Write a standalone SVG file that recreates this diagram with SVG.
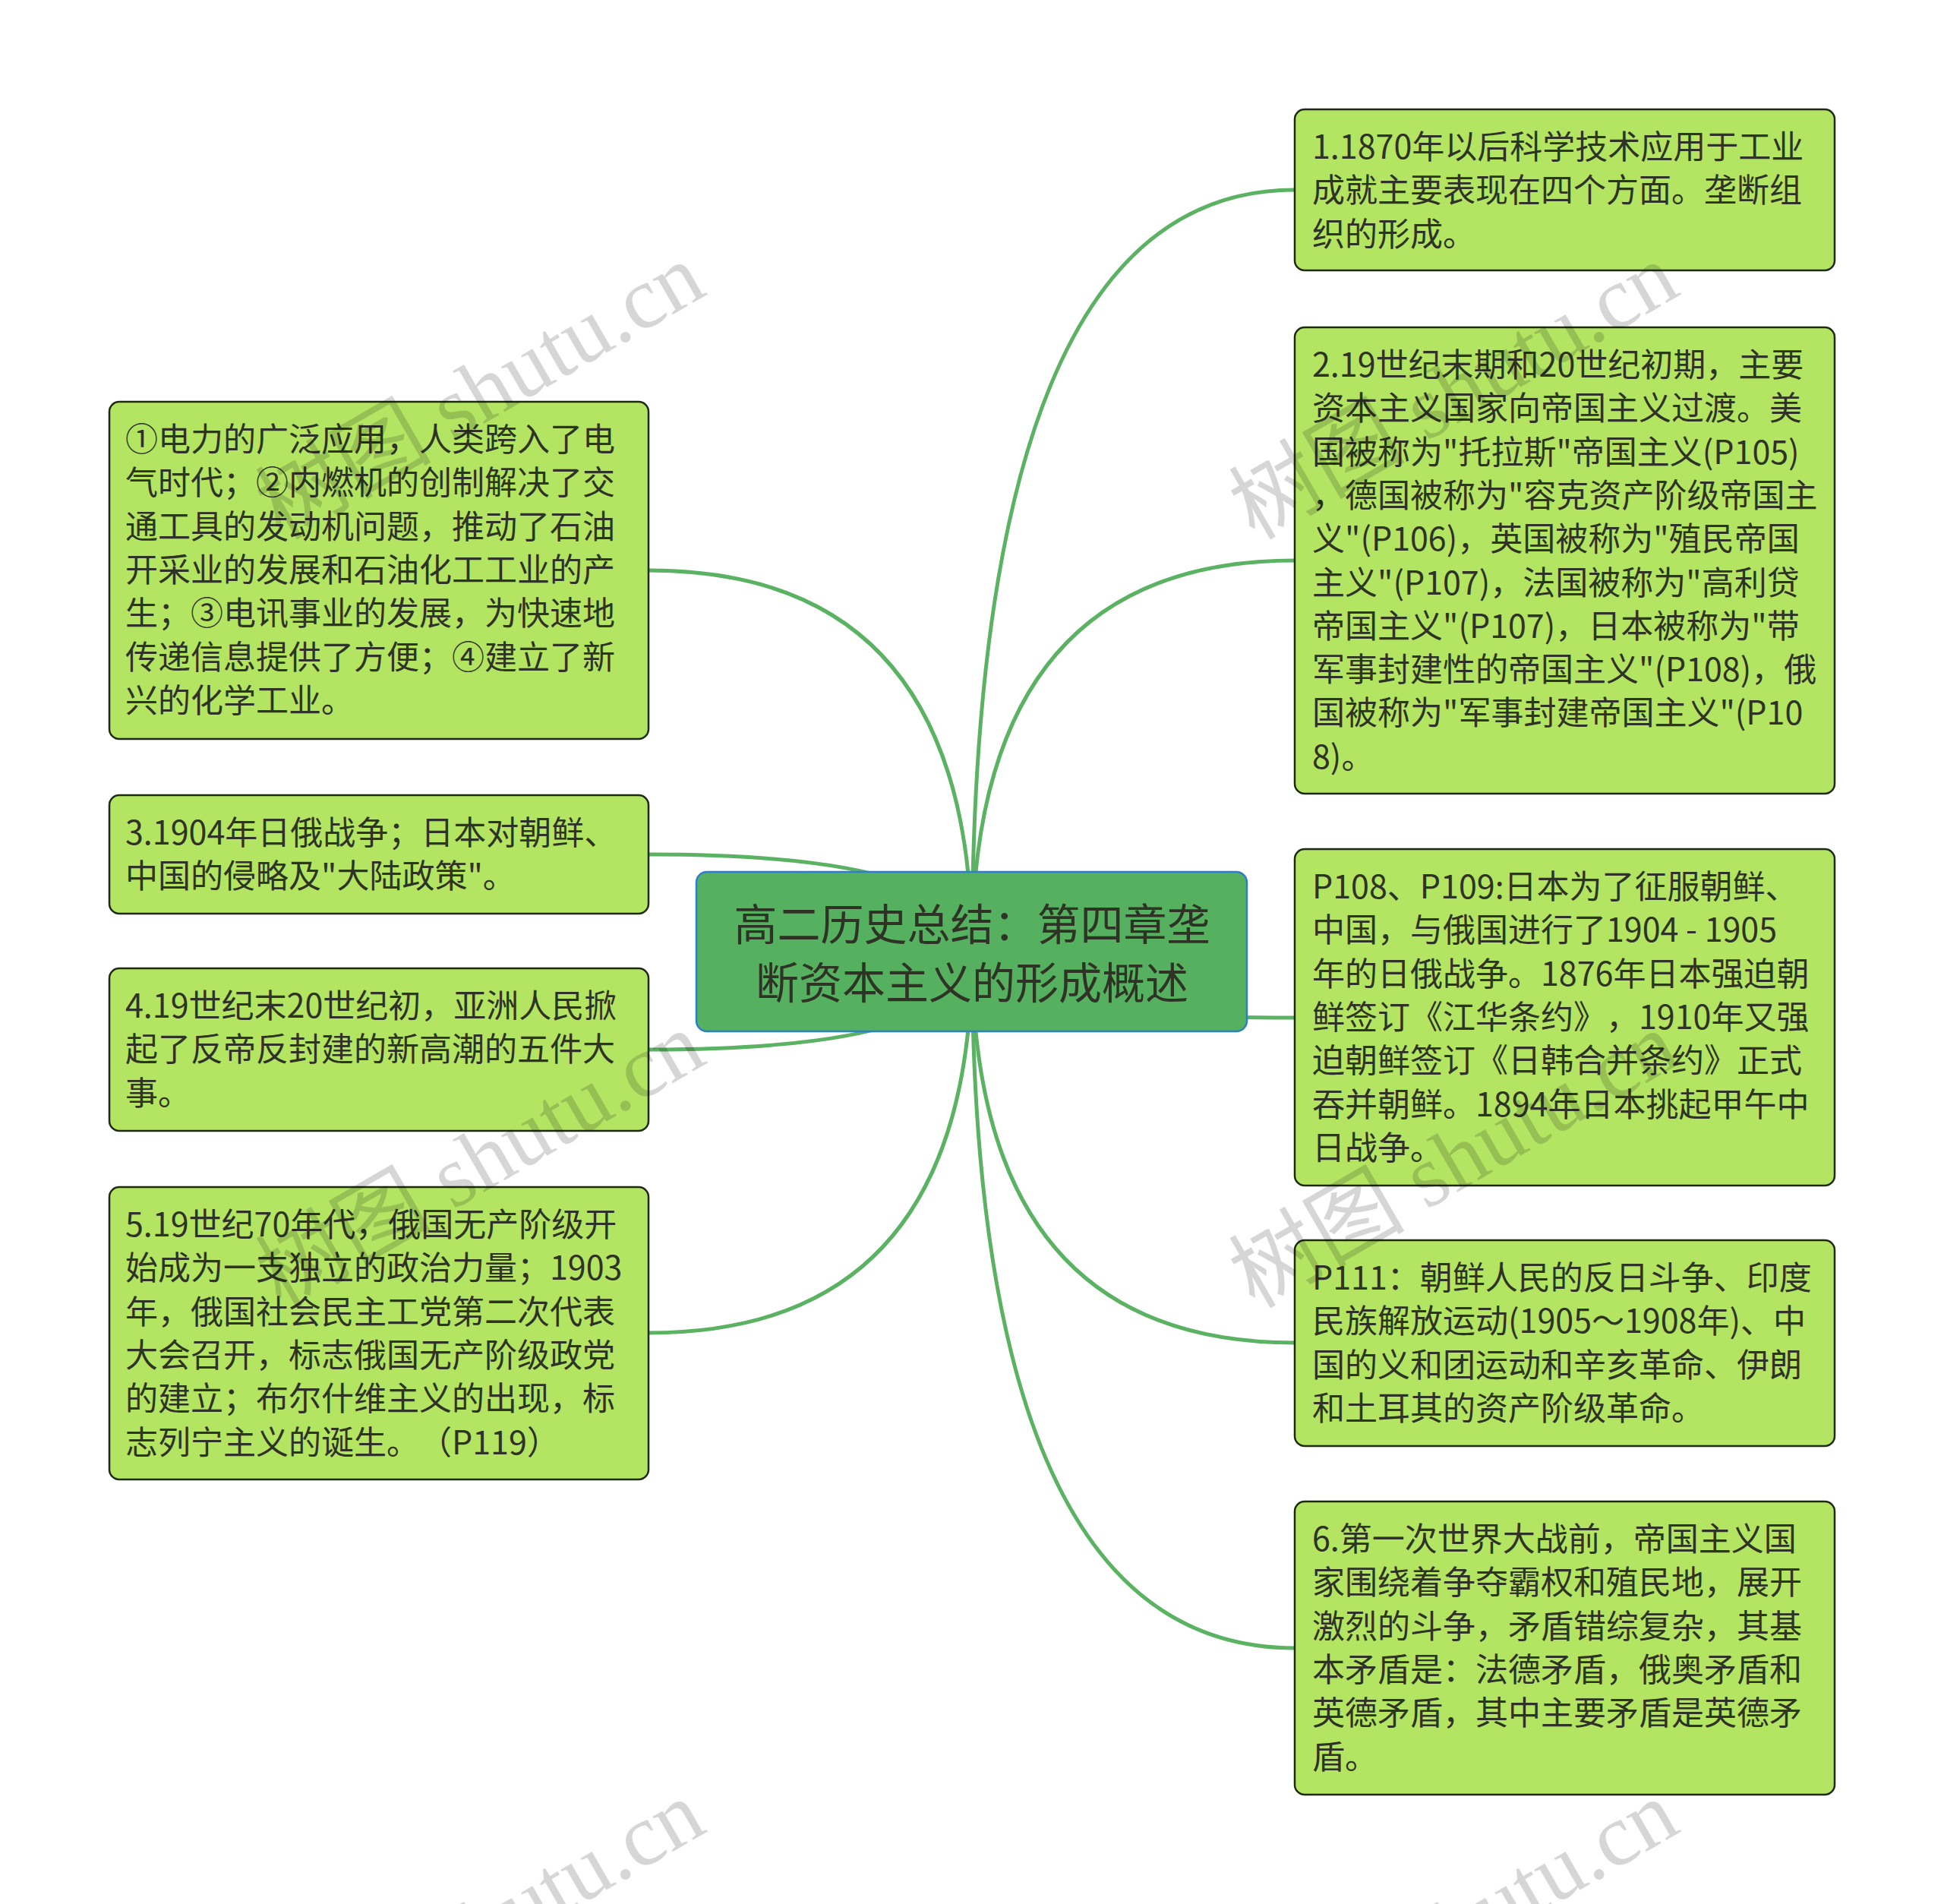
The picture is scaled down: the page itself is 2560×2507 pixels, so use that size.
<svg xmlns="http://www.w3.org/2000/svg" width="2560" height="2507" viewBox="0 0 2560 2507">
<style>
.bg{fill:#ffffff}
.edge{fill:none;stroke:#5ab262;stroke-width:5;stroke-linecap:round}
.box{fill:#b3e563;stroke:#1f2a12;stroke-width:2.5}
.root{fill:#55b05f;stroke:#2f7dd0;stroke-width:2.5}
.t{font-family:"Noto Sans CJK SC","Noto Sans",sans-serif;font-size:43px;fill:#2e3325;text-spacing-trim:space-all}
.rt{font-family:"Noto Sans CJK SC","Noto Sans",sans-serif;font-size:57px;fill:#2e3325;text-anchor:middle}
.wm{font-family:"Liberation Serif","Noto Sans CJK SC",serif;font-size:116px;fill:#000;fill-opacity:0.16}
</style>
<rect class="bg" x="0" y="0" width="2560" height="2507"/>
<g id="connectors">
<path class="edge" d="M1280,1253 Q1280,250 1705,250"/>
<path class="edge" d="M1280,1253 Q1280,738 1705,738"/>
<path class="edge" d="M1280,1253 Q1280,1340 1705,1340"/>
<path class="edge" d="M1280,1253 Q1280,1768 1705,1768"/>
<path class="edge" d="M1280,1253 Q1280,2170 1705,2170"/>
<path class="edge" d="M1280,1253 Q1280,751 854,751"/>
<path class="edge" d="M1280,1253 Q1280,1125 854,1125"/>
<path class="edge" d="M1280,1253 Q1280,1382 854,1382"/>
<path class="edge" d="M1280,1253 Q1280,1755 854,1755"/>
</g>
<g id="root">
<rect class="root" x="917" y="1148" width="725" height="210" rx="14"/>
<text class="rt"><tspan x="1280" y="1238">高二历史总结：第四章垄</tspan><tspan x="1280" y="1315">断资本主义的形成概述</tspan></text>
</g>
<g id="n1">
<rect class="box" x="1705" y="144" width="711" height="212" rx="13"/>
<text class="t"><tspan x="1728" y="209">1.1870年以后科学技术应用于工业</tspan><tspan x="1728" dy="57.3">成就主要表现在四个方面。垄断组</tspan><tspan x="1728" dy="57.3">织的形成。</tspan></text>
</g>
<g id="n2">
<rect class="box" x="1705" y="431" width="711" height="614" rx="13"/>
<text class="t"><tspan x="1728" y="496">2.19世纪末期和20世纪初期，主要</tspan><tspan x="1728" dy="57.3">资本主义国家向帝国主义过渡。美</tspan><tspan x="1728" dy="57.3">国被称为"托拉斯"帝国主义(P105)</tspan><tspan x="1728" dy="57.3">，德国被称为"容克资产阶级帝国主</tspan><tspan x="1728" dy="57.3">义"(P106)，英国被称为"殖民帝国</tspan><tspan x="1728" dy="57.3">主义"(P107)，法国被称为"高利贷</tspan><tspan x="1728" dy="57.3">帝国主义"(P107)，日本被称为"带</tspan><tspan x="1728" dy="57.3">军事封建性的帝国主义"(P108)，俄</tspan><tspan x="1728" dy="57.3">国被称为"军事封建帝国主义"(P10</tspan><tspan x="1728" dy="57.3">8)。</tspan></text>
</g>
<g id="n3">
<rect class="box" x="1705" y="1118" width="711" height="443" rx="13"/>
<text class="t"><tspan x="1728" y="1183">P108、P109:日本为了征服朝鲜、</tspan><tspan x="1728" dy="57.3">中国，与俄国进行了1904 - 1905</tspan><tspan x="1728" dy="57.3">年的日俄战争。1876年日本强迫朝</tspan><tspan x="1728" dy="57.3">鲜签订《江华条约》，1910年又强</tspan><tspan x="1728" dy="57.3">迫朝鲜签订《日韩合并条约》正式</tspan><tspan x="1728" dy="57.3">吞并朝鲜。1894年日本挑起甲午中</tspan><tspan x="1728" dy="57.3">日战争。</tspan></text>
</g>
<g id="n4">
<rect class="box" x="1705" y="1633" width="711" height="271" rx="13"/>
<text class="t"><tspan x="1728" y="1698">P111：朝鲜人民的反日斗争、印度</tspan><tspan x="1728" dy="57.3">民族解放运动(1905～1908年)、中</tspan><tspan x="1728" dy="57.3">国的义和团运动和辛亥革命、伊朗</tspan><tspan x="1728" dy="57.3">和土耳其的资产阶级革命。</tspan></text>
</g>
<g id="n5">
<rect class="box" x="1705" y="1977" width="711" height="386" rx="13"/>
<text class="t"><tspan x="1728" y="2042">6.第一次世界大战前，帝国主义国</tspan><tspan x="1728" dy="57.3">家围绕着争夺霸权和殖民地，展开</tspan><tspan x="1728" dy="57.3">激烈的斗争，矛盾错综复杂，其基</tspan><tspan x="1728" dy="57.3">本矛盾是：法德矛盾，俄奥矛盾和</tspan><tspan x="1728" dy="57.3">英德矛盾，其中主要矛盾是英德矛</tspan><tspan x="1728" dy="57.3">盾。</tspan></text>
</g>
<g id="nA">
<rect class="box" x="144" y="529" width="710" height="444" rx="13"/>
<text class="t"><tspan x="165" y="594">①电力的广泛应用，人类跨入了电</tspan><tspan x="165" dy="57.3">气时代；②内燃机的创制解决了交</tspan><tspan x="165" dy="57.3">通工具的发动机问题，推动了石油</tspan><tspan x="165" dy="57.3">开采业的发展和石油化工工业的产</tspan><tspan x="165" dy="57.3">生；③电讯事业的发展，为快速地</tspan><tspan x="165" dy="57.3">传递信息提供了方便；④建立了新</tspan><tspan x="165" dy="57.3">兴的化学工业。</tspan></text>
</g>
<g id="nB">
<rect class="box" x="144" y="1047" width="710" height="156" rx="13"/>
<text class="t"><tspan x="165" y="1112">3.1904年日俄战争；日本对朝鲜、</tspan><tspan x="165" dy="57.3">中国的侵略及"大陆政策"。</tspan></text>
</g>
<g id="nC">
<rect class="box" x="144" y="1275" width="710" height="214" rx="13"/>
<text class="t"><tspan x="165" y="1340">4.19世纪末20世纪初，亚洲人民掀</tspan><tspan x="165" dy="57.3">起了反帝反封建的新高潮的五件大</tspan><tspan x="165" dy="57.3">事。</tspan></text>
</g>
<g id="nD">
<rect class="box" x="144" y="1563" width="710" height="385" rx="13"/>
<text class="t"><tspan x="165" y="1628">5.19世纪70年代，俄国无产阶级开</tspan><tspan x="165" dy="57.3">始成为一支独立的政治力量；1903</tspan><tspan x="165" dy="57.3">年，俄国社会民主工党第二次代表</tspan><tspan x="165" dy="57.3">大会召开，标志俄国无产阶级政党</tspan><tspan x="165" dy="57.3">的建立；布尔什维主义的出现，标</tspan><tspan x="165" dy="57.3">志列宁主义的诞生。（P119）</tspan></text>
</g>
<g id="watermarks">
<text class="wm" transform="translate(370,712) rotate(-30)">树图 shutu.cn</text>
<text class="wm" transform="translate(1652,712) rotate(-30)">树图 shutu.cn</text>
<text class="wm" transform="translate(370,1724) rotate(-30)">树图 shutu.cn</text>
<text class="wm" transform="translate(1652,1724) rotate(-30)">树图 shutu.cn</text>
<text class="wm" transform="translate(370,2736) rotate(-30)">树图 shutu.cn</text>
<text class="wm" transform="translate(1652,2736) rotate(-30)">树图 shutu.cn</text>
</g>
</svg>
